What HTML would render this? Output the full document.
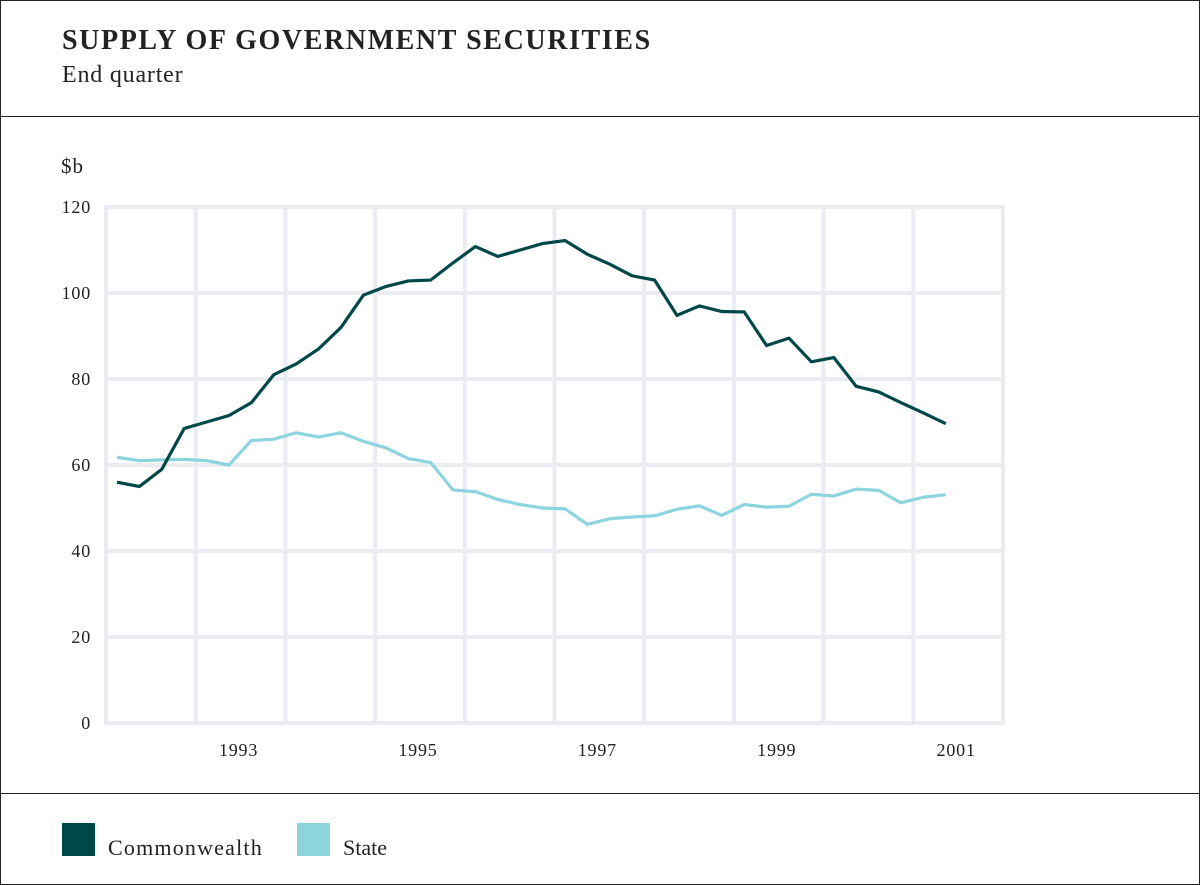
<!DOCTYPE html>
<html><head><meta charset="utf-8"><style>
body{margin:0;background:#fff;}
#wrap{position:relative;width:1198px;height:883px;border:1px solid #222;font-family:"Liberation Serif",serif;color:#222;overflow:hidden}
.hr{position:absolute;left:0;width:1198px;height:1px;background:#222}
</style></head><body>
<div id="wrap">
<div style="position:absolute;left:61px;top:24px;font-size:28px;font-weight:bold;letter-spacing:1.6px">SUPPLY OF GOVERNMENT SECURITIES</div>
<div style="position:absolute;left:61px;top:61px;font-size:24px;letter-spacing:0.8px">End quarter</div>
<div class="hr" style="top:115px"></div>
<div class="hr" style="top:792px"></div>
<svg id="chart" width="1198" height="790" style="position:absolute;left:0;top:0"></svg>
<div style="position:absolute;left:61px;top:822px;">
<div style="position:absolute;left:0;top:0;width:33px;height:33px;background:#004848"></div>
<div style="position:absolute;left:46px;top:12px;font-size:22px;white-space:nowrap;letter-spacing:1.2px">Commonwealth</div></div>
<div style="position:absolute;left:296px;top:822px;">
<div style="position:absolute;left:0;top:0;width:33px;height:33px;background:#8dd4df"></div>
<div style="position:absolute;left:46px;top:12px;font-size:22px;white-space:nowrap">State</div></div>
</div>
<script>
const commonwealth=[56,55,59,68.5,70,71.5,74.5,81,83.5,87,92,99.5,101.5,102.8,103,107,110.8,108.5,110,111.5,112.2,109,106.7,104,103,94.8,97,95.7,95.6,87.8,89.5,84,85,78.3,77,74.5,72.1,69.6];
const state=[61.8,61,61.2,61.3,61,60,65.7,66,67.5,66.5,67.5,65.5,64,61.5,60.6,54.2,53.8,52,50.8,50,49.8,46.2,47.5,47.9,48.2,49.7,50.5,48.3,50.8,50.2,50.4,53.2,52.8,54.4,54.1,51.2,52.5,53.1];
const yTicks=[0,20,40,60,80,100,120];
const yearLabels=["1993","1995","1997","1999","2001"];
const NS="http://www.w3.org/2000/svg";
const svg=document.getElementById('chart');
const X0=105,X1=1002,Y0=722,Y1=206,Q=22.4;
const y=v=>Y0-(v/120)*(Y0-Y1);
const x=i=>116+i*Q;
function mk(t,a){const e=document.createElementNS(NS,t);for(const k in a)e.setAttribute(k,a[k]);svg.appendChild(e);return e;}
for(let k=0;k<=10;k++){const gx=X0+k*(X1-X0)/10;const l=mk('line',{x1:gx,x2:gx,y1:Y1,y2:Y0,stroke:'#ebebf2','stroke-width':4});

}
yTicks.forEach(v=>{const l=mk('line',{x1:X0-2,x2:X1+2,y1:y(v),y2:y(v),stroke:'#ebebf2','stroke-width':4});


const t=mk('text',{x:90,y:y(v)+6,'text-anchor':'end','font-size':18,'letter-spacing':0.8,'font-family':'Liberation Serif, serif',fill:'#222'});t.textContent=v;

});
yearLabels.forEach((s,k)=>{const t=mk('text',{x:X0+(2*k+1.5)*(X1-X0)/10-2,y:755,'text-anchor':'middle','font-size':18,'letter-spacing':0.8,'font-family':'Liberation Serif, serif',fill:'#222'});t.textContent=s;

});
const u=mk('text',{x:60,y:172,'font-size':21,'letter-spacing':1,'font-family':'Liberation Serif, serif',fill:'#222'});u.textContent='$b';


function line(d,c,n){const p=mk('polyline',{points:d.map((v,i)=>x(i)+','+y(v)).join(' '),fill:'none',stroke:c,'stroke-width':3.2,'stroke-linejoin':'miter'});

}
line(state,'#8dd4df','state-line');
line(commonwealth,'#004848','commonwealth-line');
</script>
</body></html>
